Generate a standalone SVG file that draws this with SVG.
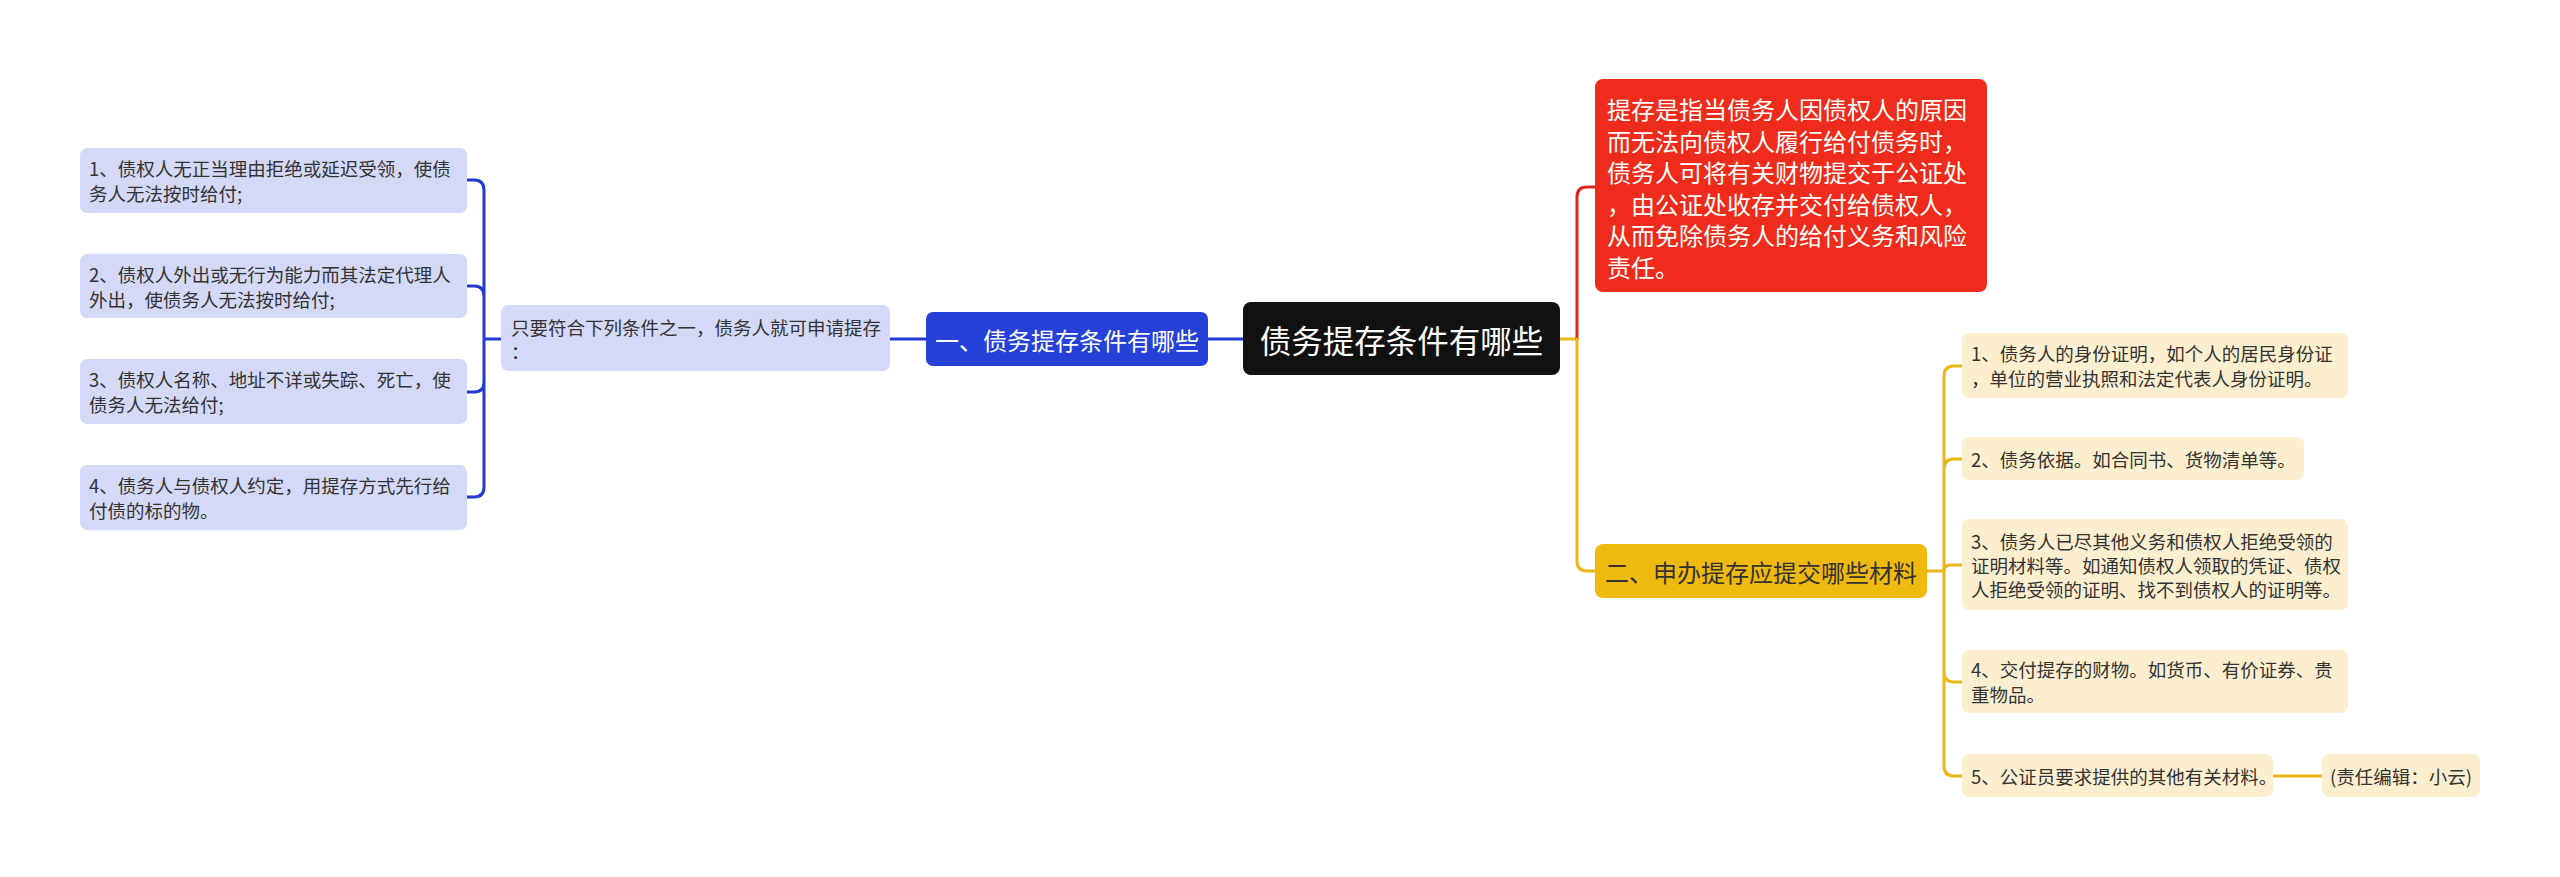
<svg xmlns="http://www.w3.org/2000/svg" width="2560" height="877" viewBox="0 0 2560 877">
<style>
text{font-family:"Noto Sans CJK SC","Noto Sans",sans-serif;dominant-baseline:central}
.s{font-size:18.5px;fill:#333}
.lb{fill:#d4d9f7}
.cr{fill:#fcefd0}
.ln{fill:none;stroke-width:3;stroke-linecap:round}
.bl{stroke:#2339cf}
.rd{stroke:#d9261c}
.or{stroke:#ebb616}
</style>
<rect width="2560" height="877" fill="#ffffff"/>
<g id="connectors">
<path class="ln bl" d="M890,339 H926 M1208,339 H1243"/>
<path class="ln bl" d="M501,339 H484 M484,339 V190 Q484,180 474,180 H467 M484,339 V296 Q484,286 474,286 H467 M484,339 V382 Q484,392 474,392 H467 M484,339 V487 Q484,497 474,497 H467"/>
<path class="ln or" d="M1560,339 H1577"/>
<path class="ln rd" d="M1577,339 V197 Q1577,187 1587,187 H1595"/>
<path class="ln or" d="M1577,339 V561 Q1577,571 1587,571 H1595"/>
<path class="ln or" d="M1927,571 H1944 M1944,571 V376 Q1944,366 1954,366 H1962 M1944,571 V469 Q1944,459 1954,459 H1962 M1944,571 Q1944,565 1950,565 H1962 M1944,571 V672 Q1944,682 1954,682 H1962 M1944,571 V766 Q1944,776 1954,776 H1962 M2273,776 H2322"/>
</g>
<g id="root">
<rect x="1243" y="302" width="317" height="73" rx="8" fill="#111111"/>
<text x="1401.5" y="338.5" font-size="31.5" fill="#ffffff" text-anchor="middle">债务提存条件有哪些</text>
</g>
<g id="n1">
<rect x="926" y="312" width="282" height="54" rx="7" fill="#2541d8"/>
<text x="1067" y="339" font-size="24" fill="#ffffff" text-anchor="middle">一、债务提存条件有哪些</text>
</g>
<g id="n1-intro">
<rect class="lb" x="501" y="305" width="389" height="66" rx="7"/>
<text class="s" x="511" y="326.5">只要符合下列条件之一，债务人就可申请提存</text>
<text class="s" x="511" y="351">：</text>
</g>
<g id="n1-c1">
<rect class="lb" x="80" y="148" width="387" height="65" rx="7"/>
<text class="s" x="89" y="168">1、债权人无正当理由拒绝或延迟受领，使债</text>
<text class="s" x="89" y="193">务人无法按时给付;</text>
</g>
<g id="n1-c2">
<rect class="lb" x="80" y="254" width="387" height="64" rx="7"/>
<text class="s" x="89" y="273.5">2、债权人外出或无行为能力而其法定代理人</text>
<text class="s" x="89" y="298.5">外出，使债务人无法按时给付;</text>
</g>
<g id="n1-c3">
<rect class="lb" x="80" y="359" width="387" height="65" rx="7"/>
<text class="s" x="89" y="379">3、债权人名称、地址不详或失踪、死亡，使</text>
<text class="s" x="89" y="404">债务人无法给付;</text>
</g>
<g id="n1-c4">
<rect class="lb" x="80" y="465" width="387" height="65" rx="7"/>
<text class="s" x="89" y="485">4、债务人与债权人约定，用提存方式先行给</text>
<text class="s" x="89" y="510">付债的标的物。</text>
</g>
<g id="def">
<rect x="1595" y="79" width="392" height="213" rx="8" fill="#ef2b1b"/>
<g font-size="24" fill="#ffffff">
<text x="1607" y="108.5">提存是指当债务人因债权人的原因</text>
<text x="1607" y="140">而无法向债权人履行给付债务时，</text>
<text x="1607" y="171.5">债务人可将有关财物提交于公证处</text>
<text x="1607" y="203">，由公证处收存并交付给债权人，</text>
<text x="1607" y="234.5">从而免除债务人的给付义务和风险</text>
<text x="1607" y="266">责任。</text>
</g>
</g>
<g id="n2">
<rect x="1595" y="544" width="332" height="54" rx="8" fill="#f0b90f"/>
<text x="1761" y="571" font-size="24" fill="#333333" text-anchor="middle">二、申办提存应提交哪些材料</text>
</g>
<g id="n2-c1">
<rect class="cr" x="1962" y="333" width="386" height="65" rx="7"/>
<text class="s" x="1971" y="353">1、债务人的身份证明，如个人的居民身份证</text>
<text class="s" x="1971" y="378">，单位的营业执照和法定代表人身份证明。</text>
</g>
<g id="n2-c2">
<rect class="cr" x="1962" y="437" width="342" height="43" rx="7"/>
<text class="s" x="1971" y="459">2、债务依据。如合同书、货物清单等。</text>
</g>
<g id="n2-c3">
<rect class="cr" x="1962" y="519" width="386" height="91" rx="7"/>
<text class="s" x="1971" y="540.5">3、债务人已尽其他义务和债权人拒绝受领的</text>
<text class="s" x="1971" y="564.5">证明材料等。如通知债权人领取的凭证、债权</text>
<text class="s" x="1971" y="588.5">人拒绝受领的证明、找不到债权人的证明等。</text>
</g>
<g id="n2-c4">
<rect class="cr" x="1962" y="650" width="386" height="63" rx="7"/>
<text class="s" x="1971" y="669">4、交付提存的财物。如货币、有价证券、贵</text>
<text class="s" x="1971" y="694">重物品。</text>
</g>
<g id="n2-c5">
<rect class="cr" x="1962" y="754" width="311" height="43" rx="7"/>
<text class="s" x="1971" y="775.5">5、公证员要求提供的其他有关材料。</text>
</g>
<g id="note">
<rect class="cr" x="2322" y="754" width="158" height="43" rx="7"/>
<text class="s" x="2330" y="775.5">(责任编辑：小云)</text>
</g>
</svg>
